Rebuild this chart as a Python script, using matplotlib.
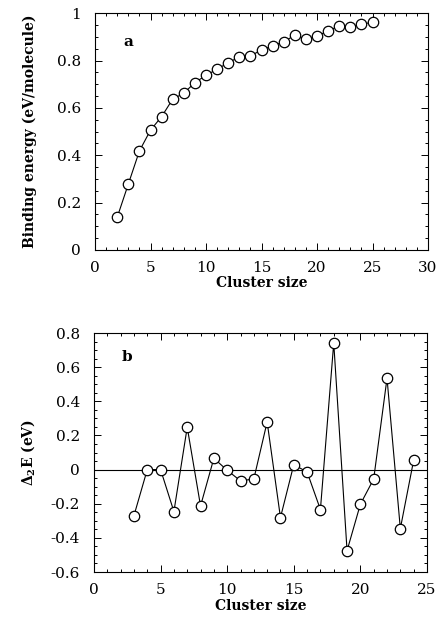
#!/usr/bin/env python3

import numpy as np
import matplotlib
matplotlib.use('Agg')
import matplotlib.pyplot as plt
from matplotlib.ticker import MultipleLocator, FormatStrFormatter

# Daten Panel a: Bindungsenergie pro Molekuel
size_a = [2, 3, 4, 5, 6, 7, 8, 9, 10, 11, 12, 13, 14, 15, 16, 17, 18, 19,
          20, 21, 22, 23, 24, 25]
energy_a = [0.138, 0.278, 0.418, 0.506, 0.563, 0.637, 0.662, 0.707, 0.737,
            0.764, 0.790, 0.816, 0.820, 0.844, 0.862, 0.879, 0.907, 0.890,
            0.904, 0.924, 0.947, 0.942, 0.954, 0.961]

# Daten Panel b: zweite Differenz
size_b = [3, 4, 5, 6, 7, 8, 9, 10, 11, 12, 13, 14, 15, 16, 17, 18, 19, 20,
          21, 22, 23, 24]
delta2_b = [-0.27, 0.0, 0.0, -0.246, 0.248, -0.213, 0.066, -0.004, -0.066,
            -0.055, 0.279, -0.281, 0.029, -0.014, -0.234, 0.742, -0.475,
            -0.203, -0.055, 0.535, -0.346, 0.055]

plt.rcParams['font.family'] = 'DejaVu Serif'
plt.rcParams['axes.unicode_minus'] = False
plt.rcParams['mathtext.fontset'] = 'dejavuserif'
plt.rcParams['mathtext.default'] = 'bf'

fig = plt.figure(figsize=(4.39, 6.20), dpi=100)
ax1 = fig.add_axes([0.2164, 0.5968, 0.7586, 0.382])
ax2 = fig.add_axes([0.2141, 0.0774, 0.7585, 0.3855])

style = dict(color='black', lw=0.8, marker='o', ms=7.5,
             mfc='white', mec='black', mew=0.9)

ax1.plot(size_a, energy_a, **style)
ax1.set_xlim(0, 30)
ax1.set_ylim(0, 1)
ax1.xaxis.set_major_locator(MultipleLocator(5))
ax1.xaxis.set_minor_locator(MultipleLocator(1))
ax1.yaxis.set_major_locator(MultipleLocator(0.2))
ax1.yaxis.set_minor_locator(MultipleLocator(0.05))
ax1.yaxis.set_major_formatter(FormatStrFormatter('%g'))
ax1.set_xlabel('Cluster size', fontweight='bold', fontsize=10, labelpad=1)
ax1.set_ylabel('Binding energy (eV/molecule)', fontweight='bold',
               fontsize=10, labelpad=14)
ax1.text(3.0, 0.88, 'a', fontweight='bold', fontsize=11,
         ha='center', va='center')

ax2.axhline(0, color='black', lw=0.8)
ax2.plot(size_b, delta2_b, **style)
ax2.set_xlim(0, 25)
ax2.set_ylim(-0.6, 0.8)
ax2.xaxis.set_major_locator(MultipleLocator(5))
ax2.xaxis.set_minor_locator(MultipleLocator(1))
ax2.yaxis.set_major_locator(MultipleLocator(0.2))
ax2.yaxis.set_minor_locator(MultipleLocator(0.05))
ax2.yaxis.set_major_formatter(FormatStrFormatter('%g'))
ax2.set_xlabel('Cluster size', fontweight='bold', fontsize=10, labelpad=1)
ax2.set_ylabel(r'$\Delta_2$E (eV)', fontweight='bold', fontsize=10,
               labelpad=10)
ax2.text(2.45, 0.66, 'b', fontweight='bold', fontsize=11,
         ha='center', va='center')

for ax in (ax1, ax2):
    ax.tick_params(which='both', direction='in', top=True, right=True,
                   labelsize=11, width=0.7)
    ax.tick_params(which='major', length=5)
    ax.tick_params(axis='y', which='major', pad=10)
    ax.tick_params(axis='x', which='major', pad=8)
    ax.tick_params(which='minor', length=2.5)
    for sp in ax.spines.values():
        sp.set_linewidth(0.8)

fig.savefig('out.png', dpi=100)
